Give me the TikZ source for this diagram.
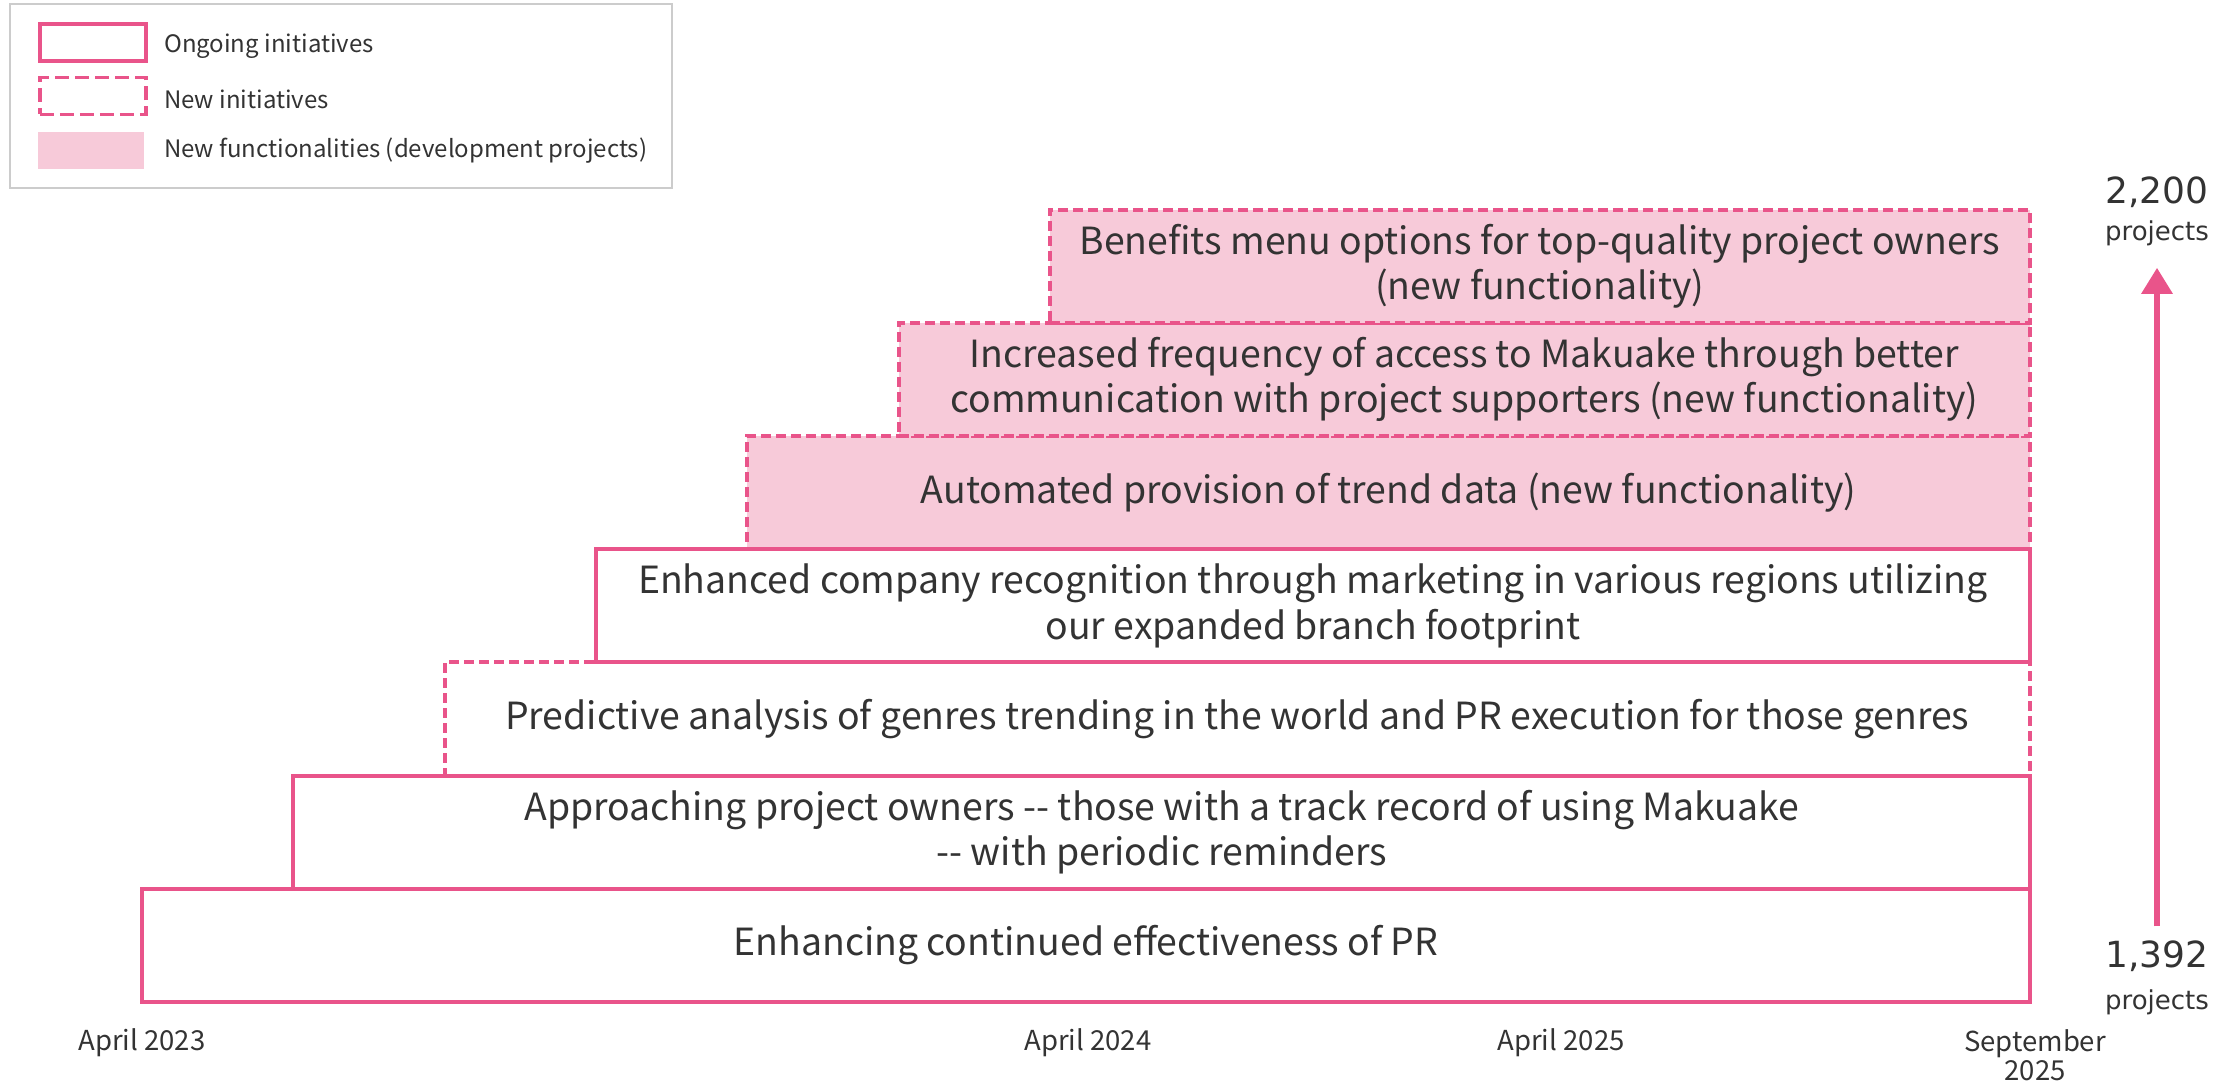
\documentclass[tikz,border=0pt]{standalone}
\usepackage{fontspec}
\usepackage{tikz}
\setmainfont{Noto Sans CJK JP}
\newfontfamily\numfont{DejaVu Sans}
\usetikzlibrary{arrows.meta}

\definecolor{mkpink}{HTML}{E9548A}
\definecolor{mkfill}{HTML}{F7CAD9}
\definecolor{mktext}{HTML}{333333}
\definecolor{mkgray}{HTML}{CCCCCC}

\tikzset{
  bar/.style={draw=mkpink, line width=4pt, minimum height=113.2pt, inner sep=0pt,
    anchor=south east, align=center, text=mktext, font=\fontsize{37.4}{45.5}\selectfont},
  newbar/.style={bar, dash pattern=on 10pt off 5pt},
  funcbar/.style={newbar, fill=mkfill},
  swatch/.style={minimum width=106pt, minimum height=37pt, inner sep=0pt, anchor=west},
  legtext/.style={anchor=west, inner sep=0pt, text=mktext, font=\fontsize{24}{29}\selectfont},
  datelabel/.style={text=mktext, inner sep=0pt, align=center, font=\fontsize{27.5}{29}\selectfont},
  countnum/.style={text=mktext, inner sep=0pt, font=\numfont\fontsize{36}{40}\selectfont},
  countunit/.style={text=mktext, inner sep=0pt, font=\numfont\fontsize{26}{30}\selectfont},
}

\begin{document}
\begin{tikzpicture}[x=1pt,y=1pt]
    \useasboundingbox (0,0) rectangle (2231,1084);

    % legend
    \draw[mkgray, line width=1.5pt] (10,896) rectangle (672,1080);
    \node[swatch, draw=mkpink, line width=4pt] (legold) at (38,1041.5) {};
    \node[swatch, draw=mkpink, line width=3.5pt, dash pattern=on 14pt off 6pt] (legnew) at (38,988) {};
    \node[swatch, fill=mkfill] (legfunc) at (38,933.5) {};
    \node[legtext] at (164,1038) {Ongoing initiatives};
    \node[legtext] at (164,985) {New initiatives};
    \node[legtext] at (164,933) {New functionalities (development projects)};

    % new initiatives first, ongoing ones drawn over them
    \node[newbar, minimum width=1585.4pt] (genres) at (2032,306.4)
      {Predictive analysis of genres trending in the world and PR execution for those genres};
    \node[funcbar, minimum width=1282.8pt] (trend) at (2032,532.8)
      {Automated provision of trend data (new functionality)};
    \node[funcbar, minimum width=1131.5pt] (access) at (2032,646)
      {Increased frequency of access to Makuake through better\\communication with project supporters (new functionality)};
    \node[funcbar, minimum width=980.2pt] (benefits) at (2032,759.2)
      {Benefits menu options for top-quality project owners\\(new functionality)};

    \node[bar, minimum width=1888pt] (pr) at (2032,80)
      {Enhancing continued effectiveness of PR};
    \node[bar, minimum width=1736.7pt] (owners) at (2032,193.2)
      {Approaching project owners -{}- those with a track record of using Makuake\\-{}- with periodic reminders};
    \node[bar, minimum width=1434.1pt] (regions) at (2032,419.6)
      {Enhanced company recognition through marketing in various regions utilizing\\our expanded branch footprint};

    % time axis
    \node[datelabel] (apr23) at (142,41) {April 2023};
    \node[datelabel] (apr24) at (1088,41) {April 2024};
    \node[datelabel] (apr25) at (1561,41) {April 2025};
    \node[datelabel] (sep25) at (2035,29) {September\\2025};

    % project count
    \node[countnum] (lownum) at (2157,128) {1,392};
    \node[countunit] (lowunit) at (2157,82) {projects};
    \node[countnum] (highnum) at (2157,892) {2,200};
    \node[countunit] (highunit) at (2157,851) {projects};
    \draw[mkpink, line width=6pt, -{Triangle[width=30pt,length=26pt]},
      shorten <=14pt, shorten >=22pt] (lownum.north) -- (highunit.south);
\end{tikzpicture}
\end{document}
